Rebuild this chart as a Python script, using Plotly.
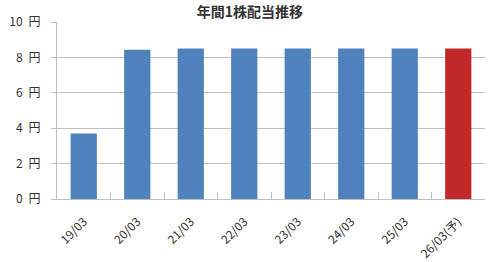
import plotly.graph_objects as go

categories = ["19/03", "20/03", "21/03", "22/03", "23/03", "24/03", "25/03", "26/03(予)"]
dividends = [3.7, 8.43, 8.5, 8.5, 8.5, 8.5, 8.5, 8.5]
colors = ["#4F81BD"] * 7 + ["#C0282A"]
y_ticks = [0, 2, 4, 6, 8, 10]
y_tick_labels = [f"{v}\u2002円" for v in y_ticks]
title = "年間1株配当推移"

font_family = "Noto Sans CJK JP, Noto Sans, sans-serif"

fig = go.Figure(go.Bar(x=categories, y=dividends, marker=dict(color=colors, line=dict(width=0)), width=0.49))

fig.update_layout(
    width=500, height=262,
    margin=dict(l=57, r=15, t=22, b=63),
    paper_bgcolor="white", plot_bgcolor="white",
    showlegend=False,
    title=dict(text=title, x=0.5, xanchor="center", y=1 - 12 / 262, yanchor="middle",
               font=dict(family=font_family, size=14, color="#333333", weight="bold")),
    font=dict(family=font_family, size=12, color="#333333"),
    bargap=0.51,
)
fig.update_xaxes(
    type="category", tickangle=-45, showline=True, linecolor="#BFBFBF", linewidth=1,
    ticks="inside", tickson="boundaries", ticklen=7, tickcolor="#BFBFBF",
    showgrid=False, tickfont=dict(size=12, color="#333333"), ticklabelstandoff=10,
    automargin=False,
)
fig.update_yaxes(
    range=[0, 10], tickvals=y_ticks, ticktext=y_tick_labels,
    showline=True, linecolor="#BFBFBF", linewidth=1,
    ticks="outside", ticklen=5, tickcolor="#BFBFBF",
    showgrid=True, gridcolor="#BFBFBF", gridwidth=1, zeroline=False,
    tickfont=dict(size=12, color="#333333"), ticklabelstandoff=8,
    automargin=False,
)

fig.write_html("out.html")
